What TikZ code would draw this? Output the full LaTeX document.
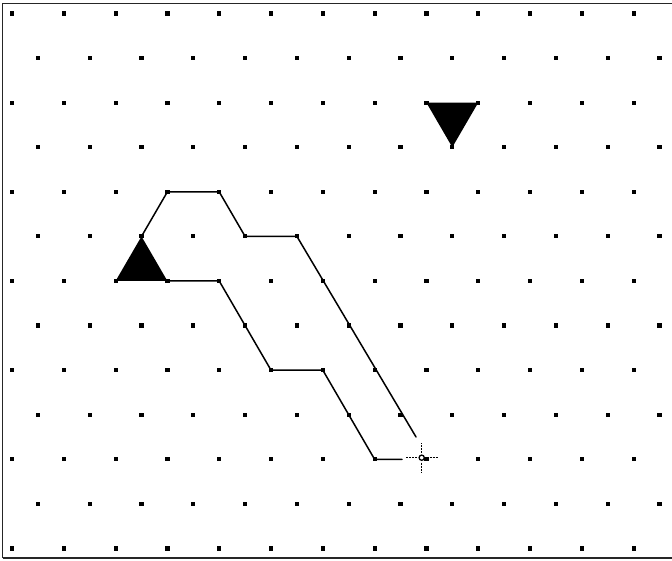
\documentclass[tikz,border=0pt]{standalone}
\begin{document}
\begin{tikzpicture}[x=1pt,y=-1pt,
  griddot/.style={fill=black},
  pathline/.style={line width=1.5pt,line join=round,line cap=round},
  frameline/.style={line width=1.5pt,black!85},
  crossarm/.style={line width=1.3pt,dash pattern=on 2pt off 1pt}]
\useasboundingbox (0,0) rectangle (672,561);
% isometric grid: x = 12 + 25.9 c, y = 13.5 + 44.58 r
\def\gx#1{12+25.9*#1}
\def\gy#1{13.5+44.58*#1}
% frame
\draw[frameline] (2.5,558) -- (2.5,3.5) -- (672,3.5);
\draw[frameline] (2.5,558) -- (672,558);
% dots
\foreach \r in {0,...,12}{
  \pgfmathtruncatemacro{\rpar}{mod(\r,2)}
  \foreach \k in {0,...,12}{
    \pgfmathsetmacro{\cc}{2*\k+\rpar}
    \fill[griddot] ({\gx{\cc}-2.1},{\gy{\r}-2.1}) rectangle ({\gx{\cc}+2.1},{\gy{\r}+2.1});
  }
}
% named coordinates
\coordinate (apex) at ({\gx{5}},{\gy{5}});
\coordinate (bl) at ({\gx{4}},{\gy{6}});
\coordinate (br) at ({\gx{6}},{\gy{6}});
\coordinate (u1) at ({\gx{6}},{\gy{4}});
\coordinate (u2) at ({\gx{8}},{\gy{4}});
\coordinate (u3) at ({\gx{9}},{\gy{5}});
\coordinate (u4) at ({\gx{11}},{\gy{5}});
\coordinate (uend) at ({\gx{15.6}},{\gy{9.5}});
\coordinate (l1) at ({\gx{8}},{\gy{6}});
\coordinate (l2) at ({\gx{10}},{\gy{8}});
\coordinate (l3) at ({\gx{12}},{\gy{8}});
\coordinate (l4) at ({\gx{14}},{\gy{10}});
\coordinate (lend) at (402,{\gy{10}});
\coordinate (cur) at (421.7,457.7);
\coordinate (t1) at ({\gx{16}},{\gy{2}});
\coordinate (t2) at ({\gx{18}},{\gy{2}});
\coordinate (t3) at ({\gx{17}},{\gy{3}});
% filled triangles
\fill (bl) -- (apex) -- (br) -- cycle;
\fill (t1) -- (t2) -- (t3) -- cycle;
% paths
\draw[pathline] (apex) -- (u1) -- (u2) -- (u3) -- (u4) -- (uend);
\draw[pathline] (br) -- (l1) -- (l2) -- (l3) -- (l4) -- (lend);
% cursor
\draw[line width=1.3pt] (cur) circle (2.6);
\draw[crossarm] ([xshift=-5pt]cur) -- ([xshift=-16pt]cur);
\draw[crossarm] ([xshift=5pt]cur) -- ([xshift=16pt]cur);
\draw[crossarm] ([yshift=5pt]cur) -- ([yshift=15pt]cur);
\draw[crossarm] ([yshift=-5pt]cur) -- ([yshift=-15pt]cur);
\end{tikzpicture}
\end{document}
